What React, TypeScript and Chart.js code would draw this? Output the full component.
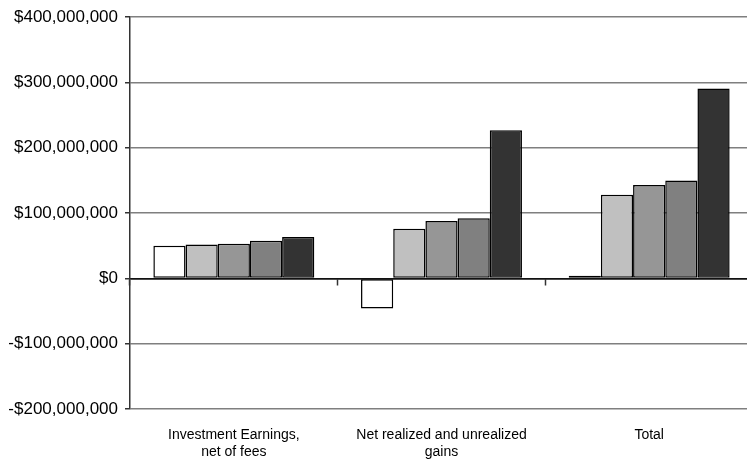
import React, { useEffect, useRef } from "react";
import { Chart, registerables } from "chart.js";

Chart.register(...registerables);

const categories: string[][] = [
  ["Investment Earnings,", "net of fees"],
  ["Net realized and unrealized", "gains"],
  ["Total"],
];

const series1 = [50000000, -46000000, 4000000];
const series2 = [52000000, 76000000, 128000000];
const series3 = [53000000, 88000000, 143000000];
const series4 = [57500000, 92000000, 150000000];
const series5 = [63500000, 227000000, 291000000];

const seriesNames = ["Series 1", "Series 2", "Series 3", "Series 4", "Series 5"];
const seriesColors = ["#ffffff", "#c0c0c0", "#969696", "#808080", "#333333"];

const yTicks = [-200000000, -100000000, 0, 100000000, 200000000, 300000000, 400000000];

const FONT = "'Liberation Sans', Arial, sans-serif";

function fmt(v: number): string {
  return (v < 0 ? "-" : "") + "$" + Math.abs(v).toLocaleString("en-US");
}

export default function App() {
  const ref = useRef<HTMLCanvasElement | null>(null);

  useEffect(() => {
    if (!ref.current) return;
    const values = [series1, series2, series3, series4, series5];
    const chart = new Chart(ref.current, {
      type: "bar",
      data: {
        labels: categories,
        datasets: values.map((d, i) => ({
          label: seriesNames[i],
          data: d,
          backgroundColor: seriesColors[i],
          borderColor: "#000000",
          borderWidth: 1.5,
          borderSkipped: false,
          categoryPercentage: 0.775,
          barPercentage: 1,
          xAxisID: "x",
        })),
      },
      options: {
        responsive: false,
        animation: false,
        devicePixelRatio: 1,
        layout: { padding: { top: 13, left: 0, right: 0, bottom: 0 } },
        plugins: {
          legend: { display: false },
          tooltip: { enabled: false },
        },
        scales: {
          x: {
            type: "category",
            position: { y: 0 } as any,
            offset: true,
            grid: {
              display: true,
              drawOnChartArea: false,
              drawTicks: true,
              tickLength: 6,
              tickColor: "#333333",
              tickWidth: 1.5,
              offset: true,
            },
            border: { display: true, color: "#111111", width: 1.5 },
            ticks: { display: false },
          },
          x2: {
            type: "category",
            position: "bottom",
            labels: categories as any,
            offset: true,
            grid: { display: false, drawTicks: false },
            border: { display: false },
            ticks: {
              color: "#000000",
              font: { family: FONT, size: 14 },
              padding: 18,
              maxRotation: 0,
              autoSkip: false,
            },
            afterFit: (s: any) => {
              s.height = 52;
            },
          },
          y: {
            type: "linear",
            min: -200000000,
            max: 400000000,
            afterBuildTicks: (s: any) => {
              s.ticks = yTicks.map((v) => ({ value: v }));
            },
            grid: {
              color: (ctx: any) => (ctx.tick && ctx.tick.value === 0 ? "#111111" : "#7f7f7f"),
              lineWidth: 1.5,
              drawTicks: true,
              tickLength: 5,
              tickColor: "#333333",
              tickWidth: 1.5,
            },
            border: { display: true, color: "#333333", width: 1.5 },
            ticks: {
              color: "#000000",
              font: { family: FONT, size: 17 },
              padding: 7,
              callback: (v: any) => fmt(Number(v)),
            },
            afterFit: (s: any) => {
              s.width = 130;
            },
          },
        },
      },
    });
    return () => chart.destroy();
  }, []);

  return (
    <div
      style={{
        position: "fixed",
        left: 0,
        top: 0,
        width: 747,
        height: 461,
        overflow: "hidden",
        background: "#ffffff",
      }}
    >
      <canvas ref={ref} width={753} height={461} style={{ display: "block" }} />
    </div>
  );
}
